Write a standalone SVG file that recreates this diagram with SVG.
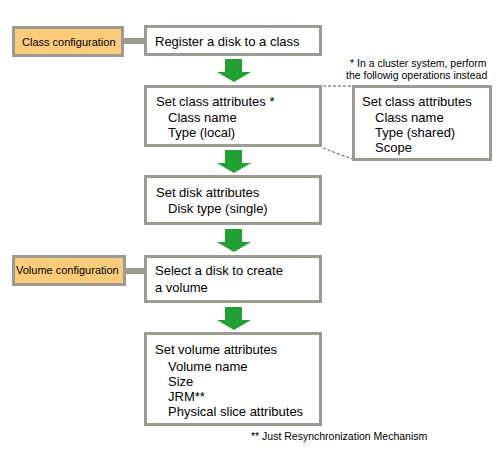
<svg xmlns="http://www.w3.org/2000/svg" width="500" height="450" viewBox="0 0 500 450">
<style>
.box{fill:#fff;stroke:#9b9b93;stroke-width:3}
.tag{fill:#fdcb7a;stroke:#9b9b93;stroke-width:3}
.t{font-family:"Liberation Sans",Arial,sans-serif;font-size:13px;fill:#000}
.s{font-family:"Liberation Sans",Arial,sans-serif;font-size:11px;fill:#000}
.n{font-family:"Liberation Sans",Arial,sans-serif;font-size:10.5px;fill:#000}
.arr{fill:#21a131}
.link{stroke:#9b9b93;stroke-width:6;fill:none}
.dash{stroke:#555;stroke-width:1;stroke-dasharray:3,2;fill:none}
</style>
<defs>
<path id="arrow" class="arr" d="M-9,0 H8 V13 H17 L0,23 L-17,13 H-9 Z"/>
</defs>
<g id="connectors">
<line class="link" x1="124" y1="41" x2="145" y2="41"/>
<line class="link" x1="126" y1="271" x2="145" y2="271"/>
<use href="#arrow" x="234" y="59"/>
<use href="#arrow" x="234" y="150"/>
<use href="#arrow" x="234" y="229"/>
<use href="#arrow" x="234" y="307"/>
<line class="dash" x1="323" y1="86" x2="352" y2="86"/>
<line class="dash" x1="323" y1="148" x2="352" y2="159"/>
</g>
<g id="class-config">
<rect class="tag" x="13.5" y="27.5" width="109" height="28"/>
<text class="s" x="22" y="46">Class configuration</text>
</g>
<g id="register">
<rect class="box" x="145.5" y="26.5" width="175" height="28"/>
<text class="t" x="155" y="46">Register a disk to a class</text>
</g>
<g id="class-attrs">
<rect class="box" x="145.5" y="86.5" width="175" height="59"/>
<text class="t" x="156" y="106">Set class attributes *</text>
<text class="t" x="168" y="122">Class name</text>
<text class="t" x="168" y="137">Type (local)</text>
</g>
<g id="note">
<text class="n" x="350" y="67">* In a cluster system, perform</text>
<text class="n" x="346" y="79">the followig operations instead</text>
</g>
<g id="class-attrs-cluster">
<rect class="box" x="353.5" y="86.5" width="137" height="73"/>
<text class="t" x="362" y="106">Set class attributes</text>
<text class="t" x="375" y="122">Class name</text>
<text class="t" x="375" y="137">Type (shared)</text>
<text class="t" x="375" y="152">Scope</text>
</g>
<g id="disk-attrs">
<rect class="box" x="145.5" y="176.5" width="175" height="47"/>
<text class="t" x="156" y="197">Set disk attributes</text>
<text class="t" x="168" y="213">Disk type (single)</text>
</g>
<g id="volume-config">
<rect class="tag" x="13.5" y="256.5" width="111" height="28"/>
<text class="s" x="16" y="274">Volume configuration</text>
</g>
<g id="select-disk">
<rect class="box" x="145.5" y="256.5" width="175" height="45"/>
<text class="t" x="155" y="275">Select a disk to create</text>
<text class="t" x="155" y="292">a volume</text>
</g>
<g id="volume-attrs">
<rect class="box" x="145.5" y="333.5" width="175" height="91"/>
<text class="t" x="155" y="354">Set volume attributes</text>
<text class="t" x="168" y="371">Volume name</text>
<text class="t" x="168" y="386">Size</text>
<text class="t" x="168" y="401">JRM**</text>
<text class="t" x="168" y="416">Physical slice attributes</text>
</g>
<g id="footnote">
<text class="n" x="251" y="440">** Just Resynchronization Mechanism</text>
</g>
</svg>
